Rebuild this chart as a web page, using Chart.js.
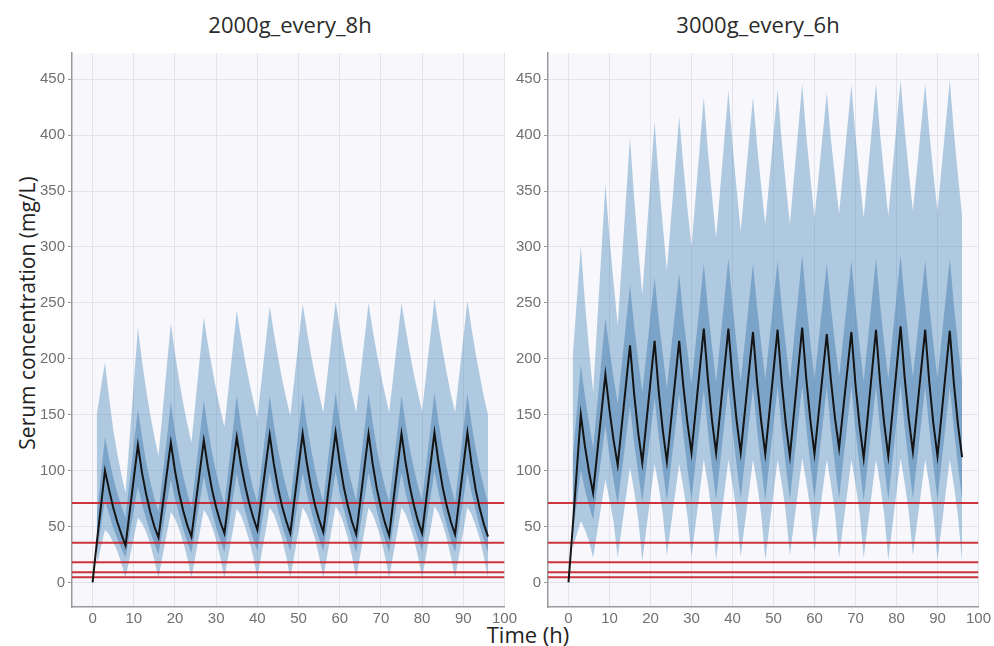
<!DOCTYPE html>
<html>
<head>
<meta charset="utf-8">
<title>Serum concentration</title>
<script src="https://cdn.jsdelivr.net/npm/chart.js"></script>
<style>
  body { margin: 0; background: #fff; width: 994px; height: 646px; position: relative; overflow: hidden; font-family: "Open Sans", sans-serif; }
  canvas { position: absolute; top: 0; }
  .panel-title { position: absolute; top: 11px; font-size: 22px; line-height: 26px; color: #2b2b2b; transform: translateX(-50%); white-space: nowrap; }
  #ytitle { position: absolute; left: 27px; top: 313px; font-size: 21px; color: #222; white-space: nowrap; transform: translate(-50%, -50%) rotate(-90deg); }
  #xtitle { position: absolute; left: 528px; top: 634px; font-size: 22px; color: #222; white-space: nowrap; transform: translate(-50%, -50%); }
</style>
</head>
<body>
<div class="panel-title" style="left:290px">2000g_every_8h</div>
<div class="panel-title" style="left:758px">3000g_every_6h</div>
<div id="ytitle">Serum concentration (mg/L)</div>
<div id="xtitle">Time (h)</div>
<canvas id="left" width="520" height="646" style="left:0"></canvas>
<canvas id="right" width="484" height="646" style="left:510px"></canvas>

<script>
// thresholds drawn as red horizontal lines (mg/L)
const thresholds = [71, 35.5, 18, 9, 4.5];

// ---- 2000 g every 8 h ----
const timeA = [0, 1, 3, 4, 5, 6, 7,
  8, 11, 12, 13, 14, 15,  16, 19, 20, 21, 22, 23,  24, 27, 28, 29, 30, 31,
  32, 35, 36, 37, 38, 39,  40, 43, 44, 45, 46, 47,  48, 51, 52, 53, 54, 55,
  56, 59, 60, 61, 62, 63,  64, 67, 68, 69, 70, 71,  72, 75, 76, 77, 78, 79,
  80, 83, 84, 85, 86, 87,  88, 91, 92, 93, 94, 95,  96];
const medianA = [0, 35, 100, 83, 67, 54, 43,
  33, 123, 98, 79, 63, 50,  40, 125, 100, 80, 64, 51,  41, 127, 103, 83, 67, 54,
  44, 130, 106, 87, 71, 58,  47, 132, 106, 85, 68, 55,  44, 133, 107, 86, 69, 56,
  45, 134, 107, 85, 68, 54,  43, 133, 106, 84, 67, 53,  42, 133, 107, 86, 69, 55,
  44, 134, 107, 85, 68, 54,  43, 134, 106, 83, 66, 52,  41];
const p95A = [null, 150, 197, 165, 137, 115, 96,
  80, 228, 198, 172, 150, 130,  113, 232, 205, 181, 160, 142,  125, 237, 213, 192, 172, 155,
  139, 243, 220, 199, 180, 163,  147, 247, 223, 202, 182, 165,  149, 249, 226, 204, 185, 168,
  152, 252, 228, 206, 186, 168,  152, 250, 226, 205, 186, 168,  152, 250, 227, 206, 186, 169,
  153, 254, 229, 207, 187, 168,  152, 252, 227, 205, 185, 166,  150];
const p75A = [null, 60, 130, 111, 94, 80, 68,
  58, 155, 130, 108, 90, 75,  63, 161, 135, 113, 95, 80,  67, 163, 138, 116, 98, 83,
  70, 167, 141, 119, 100, 84,  71, 167, 141, 119, 101, 85,  72, 168, 142, 120, 101, 85,
  72, 170, 144, 121, 102, 87,  73, 169, 143, 120, 101, 85,  72, 167, 142, 120, 102, 86,
  73, 170, 143, 121, 102, 86,  72, 169, 142, 120, 101, 85,  71];
const p25A = [null, 25, 74, 61, 49, 39, 30,
  22, 86, 70, 57, 45, 35,  25, 92, 75, 61, 48, 36,  26, 95, 78, 63, 49, 38,
  27, 97, 79, 64, 51, 39,  28, 98, 80, 65, 51, 39,  28, 98, 80, 65, 51, 39,
  28, 99, 80, 65, 51, 38,  27, 98, 80, 64, 50, 38,  27, 98, 80, 65, 51, 39,
  28, 99, 80, 65, 51, 38,  27, 98, 80, 64, 50, 38,  27];
const p5A = [null, 15, 47, 43, 36, 28, 17,
  4, 58, 53, 45, 34, 20,  4, 63, 57, 48, 36, 22,  4, 65, 59, 50, 38, 22,
  4, 66, 60, 50, 38, 23,  4, 67, 61, 51, 39, 23,  4, 67, 61, 51, 39, 23,
  4, 68, 62, 52, 39, 23,  4, 67, 61, 51, 39, 23,  4, 67, 61, 51, 39, 23,
  4, 68, 62, 52, 39, 23,  4, 67, 61, 51, 39, 23,  4];

// ---- 3000 g every 6 h ----
const timeB = [0, 1, 3, 4, 5,
  6, 9, 10, 11,  12, 15, 16, 17,  18, 21, 22, 23,  24, 27, 28, 29,  30, 33, 34, 35,
  36, 39, 40, 41,  42, 45, 46, 47,  48, 51, 52, 53,  54, 57, 58, 59,  60, 63, 64, 65,
  66, 69, 70, 71,  72, 75, 76, 77,  78, 81, 82, 83,  84, 87, 88, 89,  90, 93, 94, 95,  96];
const medianB = [0, 48, 150, 122, 99,
  80, 186, 154, 127,  105, 212, 169, 134,  107, 216, 171, 136,  108, 216, 176, 143,  116, 227, 182, 145,
  116, 227, 182, 145,  116, 224, 179, 144,  115, 226, 179, 142,  113, 228, 182, 145,  115, 222, 181, 147,
  120, 224, 177, 140,  111, 226, 179, 142,  113, 229, 183, 146,  117, 226, 179, 142,  113, 225, 178, 141,  112];
const p95B = [null, 200, 301, 251, 209,
  170, 356, 308, 268,  230, 398, 344, 299,  257, 412, 361, 319,  279, 417, 373, 335,  300, 434, 386, 346,
  308, 440, 392, 352,  314, 434, 391, 354,  320, 441, 395, 356,  320, 446, 400, 362,  326, 438, 397, 362,
  330, 445, 400, 362,  326, 446, 401, 363,  328, 449, 405, 367,  332, 446, 403, 366,  332, 449, 403, 364,  328];
const p75B = [null, 110, 195, 167, 143,
  120, 237, 208, 183,  160, 266, 230, 199,  170, 273, 235, 204,  174, 276, 238, 207,  177, 285, 245, 211,
  179, 290, 248, 213,  180, 285, 246, 213,  182, 288, 247, 212,  180, 293, 251, 215,  182, 285, 247, 214,
  184, 288, 247, 212,  180, 290, 249, 214,  182, 293, 252, 217,  184, 288, 248, 214,  182, 290, 248, 213,  180];
const p25B = [null, 42, 100, 83, 69,
  56, 140, 113, 91,  70, 158, 125, 98,  72, 165, 130, 101,  73, 168, 132, 102,  74, 172, 135, 103,
  74, 175, 137, 105,  75, 174, 136, 104,  74, 175, 137, 104,  74, 176, 138, 105,  75, 174, 136, 105,
  75, 175, 136, 104,  73, 175, 137, 104,  74, 177, 138, 106,  75, 175, 137, 104,  74, 175, 137, 104,  74];
const p5B = [null, 30, 55, 47, 37,
  22, 92, 74, 54,  22, 103, 82, 57,  19, 106, 86, 61,  24, 106, 85, 60,  23, 110, 88, 61,
  20, 110, 88, 62,  23, 110, 88, 61,  20, 110, 89, 63,  24, 111, 90, 65,  27, 110, 88, 62,
  22, 110, 88, 62,  22, 110, 88, 61,  20, 111, 89, 63,  24, 110, 88, 61,  20, 110, 87, 59,  18];

const X_MIN = -5, X_MAX = 100;
const Y_MIN = -22, Y_MAX = 473.5;

// light lavender plot background like the original
const plotBg = {
  id: 'plotBg',
  beforeDraw(chart) {
    const { ctx, chartArea: a } = chart;
    ctx.save();
    ctx.fillStyle = '#f8f8fc';
    ctx.fillRect(a.left, a.top, a.right - a.left, a.bottom - a.top);
    ctx.restore();
  }
};

function pts(times, vals) {
  return times.map((t, i) => ({ x: t, y: vals[i] }));
}

function band(times, vals, color, target, order) {
  return {
    data: pts(times, vals),
    borderWidth: 0,
    borderColor: 'rgba(0,0,0,0)',
    backgroundColor: color,
    pointRadius: 0,
    fill: target,
    order: order
  };
}

function makePanel(id, times, median, p5, p25, p75, p95, yWidth, padRight) {
  const datasets = [
    { data: pts(times, median), borderColor: '#141414', borderWidth: 2, pointRadius: 0, fill: false, order: 0 }
  ];
  thresholds.forEach(v => {
    datasets.push({
      data: [{ x: X_MIN, y: v }, { x: X_MAX, y: v }],
      borderColor: 'rgba(200,30,40,0.9)', borderWidth: 2, pointRadius: 0, fill: false, order: 1
    });
  });
  const i75 = datasets.length;
  datasets.push(band(times, p75, 'rgba(55,115,170,0.42)', i75 + 1, 2));
  datasets.push(band(times, p25, 'rgba(0,0,0,0)', false, 2));
  const i95 = datasets.length;
  datasets.push(band(times, p95, 'rgba(75,135,185,0.42)', i95 + 1, 3));
  datasets.push(band(times, p5, 'rgba(0,0,0,0)', false, 3));

  const tickFont = { family: 'Liberation Sans', size: 15 };
  new Chart(document.getElementById(id), {
    type: 'line',
    data: { datasets: datasets },
    plugins: [plotBg],
    options: {
      responsive: false,
      animation: false,
      events: [],
      layout: { padding: { top: 53, right: padRight, left: 0, bottom: 0 } },
      elements: { line: { tension: 0 } },
      plugins: { legend: { display: false }, tooltip: { enabled: false } },
      scales: {
        x: {
          type: 'linear', min: X_MIN, max: X_MAX,
          ticks: { stepSize: 10, includeBounds: false, color: '#707070', font: tickFont, padding: 3, maxRotation: 0 },
          grid: { color: '#e3e3ec', drawTicks: false },
          border: { color: '#9a9a9a', width: 1.5 },
          afterFit(s) { s.height = 39; }
        },
        y: {
          min: Y_MIN, max: Y_MAX,
          ticks: { stepSize: 50, includeBounds: false, color: '#707070', font: tickFont, padding: 3 },
          grid: { color: '#e3e3ec', tickLength: 4, tickColor: '#9a9a9a' },
          border: { color: '#9a9a9a', width: 1.5 },
          afterFit(s) { s.width = yWidth; }
        }
      }
    }
  });
}

makePanel('left', timeA, medianA, p5A, p25A, p75A, p95A, 72, 14);
makePanel('right', timeB, medianB, p5B, p25B, p75B, p95B, 38, 12);
</script>
</body>
</html>
